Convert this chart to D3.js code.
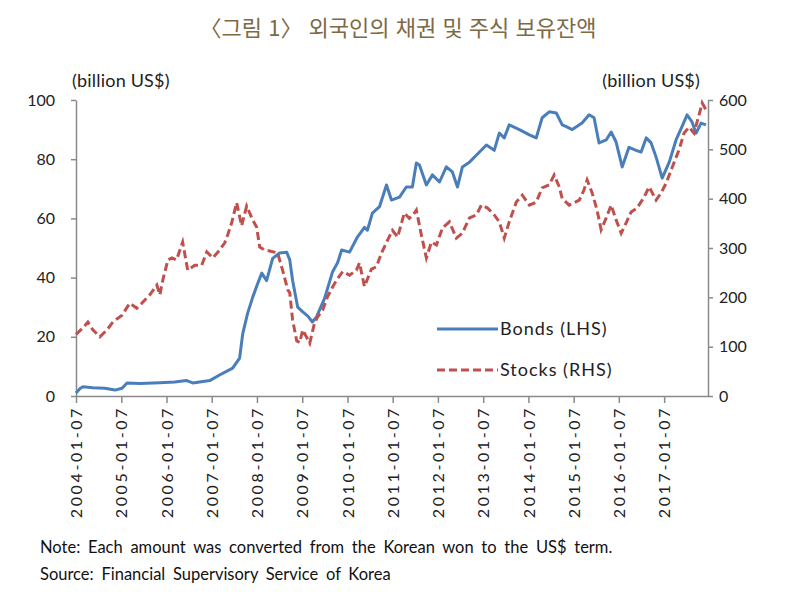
<!DOCTYPE html>
<html lang="ko">
<head>
    <meta charset="UTF-8">
    <title>외국인의 채권 및 주식 보유잔액</title>
    <script src="https://d3js.org/d3.v7.min.js"></script>
    <style>
        body{
            margin: 0;
            background: #fff;
        }
        svg{
            display: block;
        }
        .title{
            font-family: "Noto Sans CJK KR", sans-serif;
            font-size: 22px;
            fill: #7d6a45;
        }
        .lbl{
            font-family: Lato, "Open Sans", sans-serif;
            font-size: 16px;
            fill: #222;
        }
        .unit{
            font-size: 18px;
            letter-spacing: 0.2px;
        }
        .leg{
            font-size: 18px;
            letter-spacing: 1px;
        }
        .note{
            font-family: Lato, "Open Sans", sans-serif;
            font-size: 16.5px;
            fill: #111;
            word-spacing: 3.5px;
        }
    </style>
</head>
<body>
<script>
    // weekly holdings (billion US$)
    const bondDates = ["2004-01-07","2004-02-09","2004-03-03","2004-05-22","2004-08-27","2004-11-17","2005-01-13","2005-02-22",
        "2005-06-05","2005-11-14","2006-03-14","2006-06-19","2006-08-07","2006-12-22","2007-03-11","2007-06-25","2007-08-20",
        "2007-09-14","2007-10-24","2007-12-04","2008-01-13","2008-02-15","2008-03-25","2008-05-13","2008-07-08","2008-09-03",
        "2008-09-28","2008-10-21","2008-12-01","2009-01-11","2009-02-21","2009-03-30","2009-05-02","2009-07-06","2009-09-09",
        "2009-10-19","2009-11-21","2010-01-24","2010-03-28","2010-05-24","2010-06-17","2010-07-27","2010-09-23","2010-11-18",
        "2010-12-28","2011-03-03","2011-04-27","2011-06-15","2011-07-17","2011-08-11","2011-10-06","2011-11-24","2012-01-20",
        "2012-03-15","2012-05-03","2012-06-13","2012-07-23","2012-09-18","2012-11-14","2013-02-02","2013-04-06","2013-05-17",
        "2013-06-26","2013-08-05","2013-10-26","2014-01-15","2014-03-11","2014-04-28","2014-06-24","2014-08-20","2014-10-07",
        "2014-11-09","2014-12-27","2015-03-16","2015-05-12","2015-06-21","2015-07-31","2015-09-27","2015-11-06","2015-12-16",
        "2016-02-03","2016-03-29","2016-05-25","2016-07-05","2016-08-15","2016-09-24","2016-11-03","2016-12-22","2017-02-17",
        "2017-04-13","2017-05-31","2017-07-11","2017-08-20","2017-09-22","2017-11-01","2017-12-11"]
    const bondValues = [1.0,2.5,3.1,2.8,2.6,2.0,2.6,4.4,
        4.2,4.5,4.7,5.2,4.4,5.2,7.1,9.4,12.8,
        21,28,33.4,38,41.5,39,46.5,48.3,48.6,
        46,39,30,28.4,27,25,26.7,33,42,
        45,49.3,48.6,53.7,57,56,61.8,64,71.3,
        66.2,67.2,70.6,70.6,78.7,78,71.3,74.7,72.3,
        77.4,75.7,70.6,77.4,79,81.4,84.8,83,88.8,
        87.2,91.6,90,88.2,87.2,94,96,95.6,91.6,
        91,90,92.2,95,94,85.5,86.5,89.2,85.8,
        77.4,84,83,82.4,87.2,85.5,80.7,73.6,79,
        86.5,91,95,92.6,88.8,92.2,91.6]

    const stockDates = ["2004-01-07","2004-03-03","2004-04-12","2004-05-22","2004-07-18","2004-09-13","2004-10-31","2005-01-13",
        "2005-03-16","2005-05-12","2005-06-21","2005-08-25","2005-10-21","2005-11-14","2005-12-08","2006-01-18","2006-02-20",
        "2006-03-29","2006-05-17","2006-06-27","2006-08-23","2006-10-18","2006-11-28","2007-01-16","2007-02-26","2007-04-21",
        "2007-05-15","2007-06-17","2007-07-27","2007-09-05","2007-10-16","2007-12-04","2008-01-05","2008-01-29","2008-03-09",
        "2008-04-19","2008-06-22","2008-08-01","2008-09-12","2008-09-28","2008-10-21","2008-11-23","2008-12-17","2009-01-11",
        "2009-03-08","2009-04-16","2009-05-10","2009-06-20","2009-07-30","2009-09-09","2009-10-11","2009-11-29","2010-01-24",
        "2010-03-20","2010-04-14","2010-05-24","2010-07-19","2010-08-29","2010-10-09","2010-11-27","2011-01-05","2011-02-16",
        "2011-04-11","2011-05-21","2011-07-01","2011-07-17","2011-08-27","2011-10-06","2011-11-16","2011-12-26","2012-02-14",
        "2012-04-09","2012-06-04","2012-07-23","2012-09-18","2012-11-14","2012-12-23","2013-02-11","2013-04-06","2013-05-17",
        "2013-06-26","2013-08-05","2013-10-01","2013-11-19","2014-01-15","2014-03-11","2014-04-28","2014-06-24","2014-08-03",
        "2014-09-13","2014-10-07","2014-12-02","2015-02-22","2015-04-01","2015-04-26","2015-06-05","2015-07-15","2015-08-17",
        "2015-09-27","2015-11-06","2015-12-16","2016-01-26","2016-03-06","2016-04-15","2016-06-02","2016-07-29","2016-09-08",
        "2016-11-03","2016-12-14","2017-01-24","2017-03-11","2017-05-07","2017-06-17","2017-07-27","2017-09-05","2017-10-16",
        "2017-11-10","2017-12-11"]
    const stockValues = [125,138,150,134,120,134,150,164,
        188,178,188,205,225,205,235,276,280,
        276,312,255,265,265,292,280,292,310,
        326,351,392,345,385,357,342,302,296,
        294,290,255,215,209,154,112,108,134,
        107,148,160,174,201,221,235,252,245,
        255,270,222,257,262,290,316,336,322,
        371,360,371,377,326,280,312,306,341,
        353,320,330,361,367,387,381,367,353,
        320,353,393,407,387,393,422,428,448,
        424,400,387,397,418,438,412,377,337,
        361,387,357,330,351,373,381,403,424,
        397,412,432,462,499,533,545,533,570,
        594,580]

    const yearTicks = ["2004-01-07","2005-01-07","2006-01-07","2007-01-07","2008-01-07","2009-01-07","2010-01-07",
        "2011-01-07","2012-01-07","2013-01-07","2014-01-07","2015-01-07","2016-01-07","2017-01-07"]
    const leftTicks = [0,20,40,60,80,100]
    const rightTicks = [0,100,200,300,400,500,600]

    const parse = d3.timeParse("%Y-%m-%d")
    const fmt = d3.timeFormat("%Y-%m-%d")
    const bonds = bondDates.map((d,i)=> ({date: parse(d), value: bondValues[i]}))
    const stocks = stockDates.map((d,i)=> ({date: parse(d), value: stockValues[i]}))

    const plot = {left:76, right:708, top:100, bottom:396}
    const svg = d3.select("body").append("svg").attr("width",800).attr("height",600)

    const xScale = d3.scaleTime()
                        .domain([parse("2004-01-07"), parse("2017-12-27")])
                        .range([plot.left, plot.right])
    const yLeft = d3.scaleLinear().domain([0,100]).range([plot.bottom, plot.top])
    const yRight = d3.scaleLinear().domain([0,600]).range([plot.bottom, plot.top])

    // title
    svg.append("text")
        .attr("class","title")
        .attr("x",398).attr("y",36)
        .attr("text-anchor","middle")
        .text("〈그림 1〉 외국인의 채권 및 주식 보유잔액")

    // unit labels
    svg.append("text").attr("class","lbl unit").attr("x",72).attr("y",87).text("(billion US$)")
    svg.append("text").attr("class","lbl unit").attr("x",700).attr("y",87).attr("text-anchor","end").text("(billion US$)")

    function styleAxis(g){
        g.select(".domain").attr("stroke","#8a8a8a").attr("stroke-width",1.5)
        g.selectAll(".tick line").attr("stroke","#8a8a8a").attr("stroke-width",1.5)
        g.selectAll("text").attr("class","lbl").attr("fill","#222")
    }

    const leftAxis = svg.append("g")
        .attr("transform",`translate(${plot.left},0)`)
        .call(d3.axisLeft(yLeft).tickValues(leftTicks).tickSize(5).tickSizeOuter(0).tickPadding(16))
    styleAxis(leftAxis)

    const rightAxis = svg.append("g")
        .attr("transform",`translate(${plot.right},0)`)
        .call(d3.axisRight(yRight).tickValues(rightTicks).tickSize(5).tickSizeOuter(0).tickPadding(6))
    styleAxis(rightAxis)

    const bottomAxis = svg.append("g")
        .attr("transform",`translate(0,${plot.bottom})`)
        .call(d3.axisBottom(xScale).tickValues(yearTicks.map(parse)).tickFormat(fmt).tickSize(7).tickSizeOuter(0))
    styleAxis(bottomAxis)
    bottomAxis.selectAll("text")
        .attr("transform","rotate(-90)")
        .attr("text-anchor","end")
        .attr("x",-10).attr("y",0).attr("dy","0.35em")
        .style("letter-spacing","2.6px")

    // series
    const bondLine = d3.line().x(d=> xScale(d.date)).y(d=> yLeft(d.value))
    const stockLine = d3.line().x(d=> xScale(d.date)).y(d=> yRight(d.value))

    svg.append("path")
        .attr("d",bondLine(bonds))
        .attr("fill","none")
        .attr("stroke","#4a7ebb")
        .attr("stroke-width",3)
        .attr("stroke-linejoin","round")

    svg.append("path")
        .attr("d",stockLine(stocks))
        .attr("fill","none")
        .attr("stroke","#c0504d")
        .attr("stroke-width",3)
        .attr("stroke-dasharray","8,4")

    // legend
    const legend = svg.append("g")
    const items = [{name:"Bonds (LHS)", color:"#4a7ebb", dash:null, y:329},
                   {name:"Stocks (RHS)", color:"#c0504d", dash:"8,4", y:370}]
    items.forEach(it=>{
        legend.append("line")
            .attr("x1",437).attr("x2",498).attr("y1",it.y).attr("y2",it.y)
            .attr("stroke",it.color).attr("stroke-width",3)
            .attr("stroke-dasharray",it.dash)
        legend.append("text").attr("class","lbl leg")
            .attr("x",500).attr("y",it.y).attr("dy","0.35em")
            .text(it.name)
    })

    // footnotes
    svg.append("text").attr("class","note").attr("x",40).attr("y",553)
        .text("Note: Each amount was converted from the Korean won to the US$ term.")
    svg.append("text").attr("class","note").attr("x",40).attr("y",580)
        .text("Source: Financial Supervisory Service of Korea")
</script>
</body>
</html>
